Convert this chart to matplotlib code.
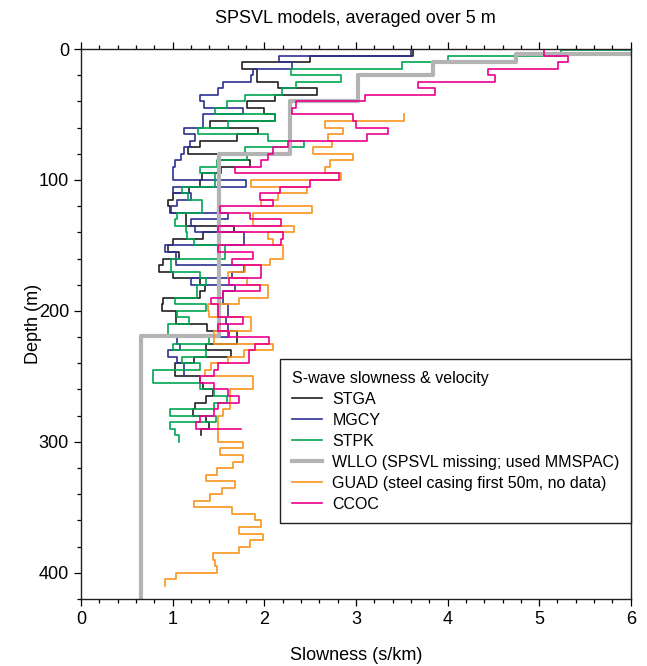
import numpy as np
import matplotlib
matplotlib.use("Agg")
import matplotlib.pyplot as plt
from matplotlib.ticker import MultipleLocator

plt.rcParams['font.family'] = ['Liberation Sans', 'DejaVu Sans']

# slowness (s/km) per 5 m layer
stga = [3.62, 2.50, 1.76, 1.92, 1.92, 2.15, 2.58, 2.12, 1.81, 2.00,
        2.12, 1.41, 1.93, 1.70, 1.30, 1.17, 1.50, 1.84, 1.53, 1.32,
        1.30, 1.18, 1.00, 0.95, 0.97, 1.15, 1.15, 1.67, 1.33, 1.00,
        0.95, 1.07, 0.90, 0.85, 1.00, 1.30, 1.35, 1.30, 0.90, 0.88,
        1.04, 1.04, 1.38, 1.70, 1.70, 1.37, 1.64, 1.23, 1.03, 1.03,
        1.30, 1.33, 1.44, 1.36, 1.25, 1.22, 1.36, 1.40, 1.31]
mgcy = [3.60, 2.16, 2.30, 1.88, 1.86, 1.55, 1.50, 1.30, 1.34, 1.77,
        1.33, 1.33, 1.12, 1.24, 1.19, 1.12, 1.09, 1.03, 1.00, 1.00,
        1.80, 1.00, 1.20, 1.05, 0.98, 1.60, 1.20, 1.25, 1.78, 1.78,
        0.92, 1.04, 1.04, 1.78, 1.65, 1.20, 1.68, 1.55, 1.55, 1.60,
        1.60, 1.58, 1.60, 1.62, 1.05, 1.08, 0.95, 1.05, 1.12, 1.12]
stpk = [5.24, 4.00, 3.50, 2.29, 2.84, 2.35, 2.19, 1.79, 1.59, 1.46,
        2.12, 1.60, 1.28, 2.04, 2.43, 1.79, 1.81, 1.48, 1.30, 1.46,
        1.46, 1.10, 1.17, 1.32, 1.32, 1.05, 1.03, 1.15, 1.16, 1.23,
        1.57, 1.57, 0.98, 0.98, 1.30, 1.36, 1.27, 1.27, 1.03, 1.37,
        1.05, 1.18, 0.95, 0.95, 1.40, 1.01, 1.37, 1.10, 1.30, 0.79,
        0.79, 1.30, 1.45, 1.59, 1.45, 0.97, 1.47, 0.97, 1.03, 1.07]
stpk_surface = 6.5   # top metre, off the axis
guad = [3.52, 2.66, 2.86, 2.70, 2.74, 2.53, 2.97, 2.72, 2.66, 2.84,
        1.86, 2.47, 2.15, 1.97, 2.52, 1.88, 1.88, 2.32, 2.04, 2.10,
        2.20, 2.20, 2.06, 1.79, 1.61, 1.81, 2.04, 2.04, 1.73, 1.39,
        1.40, 1.86, 1.86, 1.45, 1.45, 2.10, 1.78, 1.60, 1.42, 1.35,
        1.88, 1.88, 1.63, 1.63, 1.63, 1.55, 1.50, 1.50, 1.50, 1.50,
        1.77, 1.52, 1.77, 1.66, 1.48, 1.36, 1.68, 1.54, 1.41, 1.23,
        1.65, 1.90, 1.97, 1.72, 1.99, 1.84, 1.73, 1.44, 1.46, 1.48,
        1.04, 0.92]
guad_top = 50
ccoc = [5.05, 5.32, 5.21, 4.44, 4.52, 3.68, 3.86, 3.10, 2.35, 2.30,
        2.97, 3.00, 3.35, 3.12, 2.26, 2.10, 2.04, 1.97, 1.68, 2.82,
        2.50, 2.17, 1.95, 2.10, 1.52, 1.85, 2.18, 1.50, 2.20, 2.18,
        1.50, 1.88, 1.65, 1.97, 1.97, 1.62, 1.95, 1.55, 1.42, 1.50,
        1.50, 1.77, 1.50, 1.60, 2.05, 1.90, 1.83, 1.83, 1.50, 1.45,
        1.30, 1.45, 1.60, 1.72, 1.50, 1.45, 1.30, 1.26]
ccoc_tail = 1.75
# WLLO from MMSPAC: layer edges (m) and slowness
wllo_edges = [0, 4, 10, 20, 40, 80, 219, 430]
wllo = [7.0, 4.75, 3.84, 3.02, 2.28, 1.51, 0.66]


def step_xy(vals, edges):
    x = np.repeat(vals, 2)
    y = np.column_stack([edges[:-1], edges[1:]]).ravel()
    return x, y


def layers(vals, top=0, dz=5):
    return step_xy(vals, top + dz * np.arange(len(vals) + 1))


fig = plt.figure(figsize=(6.47, 6.66), dpi=100)
ax = fig.add_axes([0.125, 0.1006, 0.85, 0.8258])

lw = 1.2
x, y = layers(stga)
ax.plot(x, y, color='#231f20', lw=lw, label='STGA')
x, y = layers(mgcy)
ax.plot(x, y, color='#2e3192', lw=lw, label='MGCY')
stpk_edges = np.concatenate([[0, 1], 5 * np.arange(1, len(stpk) + 1)])
x, y = step_xy([stpk_surface] + stpk, stpk_edges)
ax.plot(x, y, color='#00a651', lw=lw, label='STPK')
x, y = step_xy(wllo, wllo_edges)
ax.plot(x, y, color='#b3b3b3', lw=3.0, label='WLLO (SPSVL missing; used MMSPAC)')
x, y = layers(guad, top=guad_top)
ax.plot(x, y, color='#f7941d', lw=lw, label='GUAD (steel casing first 50m, no data)')
x, y = layers(ccoc)
x = np.append(x, ccoc_tail)
y = np.append(y, y[-1])
ax.plot(x, y, color='#ec008c', lw=lw, label='CCOC')

ax.set_xlim(0, 6)
ax.set_ylim(420, 0)
ax.xaxis.set_major_locator(MultipleLocator(1))
ax.xaxis.set_minor_locator(MultipleLocator(0.2))
ax.yaxis.set_major_locator(MultipleLocator(100))
ax.yaxis.set_minor_locator(MultipleLocator(20))
ax.tick_params(which='both', direction='out', top=True, right=False,
               labelsize=13, width=0.9)
ax.tick_params(which='major', length=5)
ax.tick_params(which='minor', length=3)
for s in ax.spines.values():
    s.set_linewidth(1.0)
    s.set_color('#231f20')

ax.set_xlabel('Slowness (s/km)', fontsize=13, labelpad=14)
ax.set_ylabel('Depth (m)', fontsize=13, labelpad=-2)
fig.text(0.549, 0.972, 'SPSVL models, averaged over 5 m', ha='center',
         va='center', fontsize=13)

leg = ax.legend(loc='lower right', bbox_to_anchor=(1.0, 0.138),
                borderaxespad=0, fontsize=11.5, title='S-wave slowness & velocity',
                title_fontsize=11.5, alignment='left', fancybox=False,
                edgecolor='#231f20', framealpha=1, handlelength=1.9,
                handletextpad=0.65, labelspacing=0.38, borderpad=0.7)
leg.get_frame().set_linewidth(1.0)

fig.savefig('out.png', dpi=100)
